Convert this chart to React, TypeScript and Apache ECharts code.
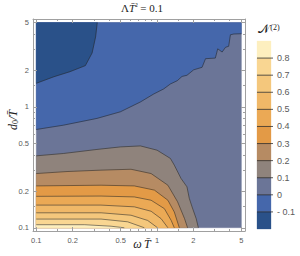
import React, { useEffect, useRef } from 'react';
import * as echarts from 'echarts';

// ---- data ----
const levels = [-0.2, -0.1, 0, 0.1, 0.2, 0.3, 0.4, 0.5, 0.6, 0.7, 0.8, 0.9];
const bandColors = ['#2a5189', '#4567ab', '#6b7597', '#8f837c', '#b68b63', '#e39a46', '#eba955', '#f0b868', '#f4c77c', '#f9d692', '#fdefbf'];
const colorbarLabels = [-0.1, 0, 0.1, 0.2, 0.3, 0.4, 0.5, 0.6, 0.7, 0.8];
const xTicks = [0.1, 0.2, 0.5, 1, 2, 5];
const yTicks = [0.1, 0.2, 0.5, 1, 2, 5];
const minorTicks = [0.15, 0.3, 0.4, 0.6, 0.7, 0.8, 0.9, 1.5, 3, 4];
const dataMin = 0.1;
const dataMax = 5;

// contour lines [ωT̄, d0/T̄]
const contourNeg01 = [[0.32, 5], [0.31, 3.8], [0.29, 2.8], [0.255, 2.2], [0.19, 1.96], [0.14, 1.78], [0.1, 1.57]];
const contour00 = [[0.1, 0.651], [0.168, 0.707], [0.318, 0.804], [0.497, 0.912], [0.728, 1.1], [0.938, 1.28], [1.135, 1.41], [1.29, 1.55], [1.47, 1.65], [1.61, 1.79], [1.77, 1.83], [2.01, 2.03], [2.36, 2.13], [2.52, 2.51], [3.04, 2.54], [3.18, 3.03], [3.46, 2.85], [3.69, 3.12], [3.92, 3.18], [4.05, 3.96], [4.32, 4.02], [5, 4.04]];
const contour01 = [[0.1, 0.394], [0.168, 0.412], [0.318, 0.445], [0.497, 0.467], [0.728, 0.476], [1.0, 0.439], [1.29, 0.375], [1.39, 0.33], [1.58, 0.256], [1.77, 0.218], [1.85, 0.175], [1.95, 0.149], [2.11, 0.119], [2.2, 0.1]];
const contour02 = [[0.1, 0.281], [0.18, 0.292], [0.344, 0.3], [0.609, 0.305], [0.893, 0.281], [1.23, 0.225], [1.48, 0.164], [1.69, 0.119], [1.79, 0.1]];
const contour03 = [[0.1, 0.222], [0.344, 0.225], [0.649, 0.222], [0.951, 0.205], [1.23, 0.169], [1.39, 0.135], [1.53, 0.1]];
const contour04 = [[0.1, 0.182], [0.344, 0.183], [0.649, 0.18], [0.893, 0.169], [1.15, 0.144], [1.31, 0.115], [1.39, 0.1]];
const contour05 = [[0.1, 0.154], [0.344, 0.154], [0.649, 0.149], [0.893, 0.137], [1.08, 0.119], [1.23, 0.1]];
const contour06 = [[0.1, 0.133], [0.344, 0.133], [0.609, 0.127], [0.836, 0.115], [1.01, 0.1]];
const contour07 = [[0.1, 0.118], [0.344, 0.118], [0.571, 0.112], [0.785, 0.1]];
const contour08 = [[0.1, 0.106], [0.25, 0.106], [0.416, 0.103], [0.536, 0.1]];

const upperContours = [contour01, contour02, contour03, contour04, contour05, contour06, contour07, contour08];
const allContours = [contourNeg01, contour00, ...upperContours];

const fillRegions: { band: number; pts: number[][] }[] = [
  { band: 2, pts: [[dataMin, dataMin], [dataMax, dataMin], [dataMax, dataMax], [dataMin, dataMax]] },
  { band: 1, pts: [...contour00, [dataMax, dataMax], [dataMin, dataMax]] },
  { band: 0, pts: [...contourNeg01, [dataMin, dataMax]] },
  ...upperContours.map((c, i) => ({ band: 3 + i, pts: [...c, [dataMin, dataMin]] })),
];

const lineColor = 'rgba(35,35,35,0.6)';
const frameColor = '#a0a0a0';
const tickLabelColor = '#5a5a5a';
const serif = '"Liberation Serif", "DejaVu Serif", serif';
const sans = '"Liberation Sans", "DejaVu Sans", sans-serif';

const fmtTick = (v: number) => String(+Number(v).toPrecision(3));

function logAxis(kind: 'x' | 'y', position: string, ticks: number[], len: number, labels: boolean, line: boolean) {
  return {
    type: 'log',
    logBase: 10,
    gridIndex: 0,
    position,
    min: 0.094,
    max: 5.35,
    axisLine: { show: line, lineStyle: { color: frameColor, width: 1 } },
    axisTick: { show: true, inside: true, length: len, customValues: ticks, lineStyle: { color: frameColor, width: 1 } },
    axisLabel: labels
      ? { show: true, customValues: ticks, formatter: fmtTick, fontSize: 7.5, color: tickLabelColor, fontFamily: sans, margin: kind === 'x' ? 5 : 4 }
      : { show: false },
    splitLine: { show: false },
    minorTick: { show: false },
    z: 10,
  };
}

export default function App() {
  const ref = useRef<HTMLDivElement>(null);
  useEffect(() => {
    document.body.style.margin = '0';
    const chart = echarts.init(ref.current!, undefined, { renderer: 'svg' });
    const option: any = {
      animation: false,
      backgroundColor: '#ffffff',
      grid: [
        { left: 33, top: 19, width: 212, height: 212, containLabel: false },
        { left: 257, top: 41, width: 14, height: 188, containLabel: false },
      ],
      xAxis: [
        logAxis('x', 'bottom', xTicks, 4, true, true),
        logAxis('x', 'top', xTicks, 4, false, true),
        logAxis('x', 'bottom', minorTicks, 2, false, false),
        logAxis('x', 'top', minorTicks, 2, false, false),
        { type: 'value', gridIndex: 1, min: 0, max: 1, show: false },
      ],
      yAxis: [
        logAxis('y', 'left', yTicks, 4, true, true),
        logAxis('y', 'right', yTicks, 4, false, true),
        logAxis('y', 'left', minorTicks, 2, false, false),
        logAxis('y', 'right', minorTicks, 2, false, false),
        {
          type: 'value', gridIndex: 1, position: 'right', min: -0.2, max: 0.9, interval: 0.1,
          axisLine: { show: false }, axisTick: { show: false }, splitLine: { show: false },
          axisLabel: {
            customValues: colorbarLabels,
            fontSize: 9, color: tickLabelColor, fontFamily: sans, margin: 6,
            formatter: (v: number) => (Math.abs(v) < 1e-9 ? '0' : v < 0 ? '- ' + Math.abs(v).toFixed(1) : v.toFixed(1)),
          },
        },
      ],
      graphic: [
        {
          type: 'text', x: 142, y: 8,
          style: {
            text: '{u|Λ}{i|T\u0304}{s|²}{u| = 0.1}',
            align: 'center', verticalAlign: 'middle', textAlign: 'center', textVerticalAlign: 'middle',
            fill: '#222',
            rich: {
              u: { fontFamily: serif, fontSize: 11, fill: '#222' },
              i: { fontFamily: serif, fontSize: 11, fontStyle: 'italic', fill: '#222' },
              s: { fontFamily: serif, fontSize: 8, fill: '#222', verticalAlign: 'top' },
            },
          },
        },
        {
          type: 'text', x: 13, y: 120, rotation: Math.PI / 2,
          style: {
            text: '{i|d}{s|0}{i|/T\u0304}',
            align: 'center', verticalAlign: 'middle', textAlign: 'center', textVerticalAlign: 'middle',
            fill: '#222',
            rich: {
              i: { fontFamily: serif, fontSize: 12, fontStyle: 'italic', fill: '#222' },
              s: { fontFamily: serif, fontSize: 8, fill: '#222', verticalAlign: 'bottom' },
            },
          },
        },
        {
          type: 'text', x: 142, y: 244,
          style: {
            text: 'ω\u2009T\u0304',
            fontFamily: serif, fontSize: 12, fontStyle: 'italic',
            align: 'center', verticalAlign: 'middle', textAlign: 'center', textVerticalAlign: 'middle',
            fill: '#222',
          },
        },
        {
          type: 'text', x: 269, y: 29,
          style: {
            text: '{n|𝒩}{s|(2)}',
            align: 'center', verticalAlign: 'middle', textAlign: 'center', textVerticalAlign: 'middle',
            fill: '#222',
            rich: {
              n: { fontFamily: serif, fontSize: 12, fill: '#222' },
              s: { fontFamily: serif, fontSize: 8, fill: '#222', verticalAlign: 'top' },
            },
          },
        },
      ],
      series: [
        {
          type: 'custom', coordinateSystem: 'cartesian2d', xAxisIndex: 0, yAxisIndex: 0, silent: true, clip: true, z: 2,
          data: fillRegions.map((r, i) => [r.pts[0][0], r.pts[0][1], i]),
          encode: { x: 0, y: 1 },
          renderItem: (params: any, api: any) => {
            const r = fillRegions[params.dataIndex];
            const c = bandColors[r.band];
            return { type: 'polygon', shape: { points: r.pts.map((p) => api.coord(p)) }, style: { fill: c, stroke: c, lineWidth: 0.3 } };
          },
        },
        {
          type: 'custom', coordinateSystem: 'cartesian2d', xAxisIndex: 0, yAxisIndex: 0, silent: true, clip: true, z: 3,
          data: allContours.map((c, i) => [c[0][0], c[0][1], i]),
          encode: { x: 0, y: 1 },
          renderItem: (params: any, api: any) => {
            const c = allContours[params.dataIndex];
            return { type: 'polyline', shape: { points: c.map((p) => api.coord(p)) }, style: { fill: 'rgba(0,0,0,0)', stroke: lineColor, lineWidth: 0.9 } };
          },
        },
        {
          type: 'custom', coordinateSystem: 'cartesian2d', xAxisIndex: 4, yAxisIndex: 4, silent: true, clip: false,
          data: bandColors.map((_, i) => [0.5, (levels[i] + levels[i + 1]) / 2, i]),
          encode: { x: 0, y: 1 },
          renderItem: (params: any, api: any) => {
            const i = params.dataIndex;
            const p1 = api.coord([0, levels[i + 1]]);
            const p2 = api.coord([1, levels[i]]);
            const children: any[] = [
              { type: 'rect', shape: { x: p1[0], y: p1[1], width: p2[0] - p1[0], height: p2[1] - p1[1] }, style: { fill: bandColors[i], stroke: bandColors[i], lineWidth: 0.3 } },
            ];
            if (i > 0) {
              children.push({ type: 'line', shape: { x1: p1[0], y1: p2[1], x2: p2[0] + 2, y2: p2[1] }, style: { stroke: 'rgba(35,35,35,0.75)', lineWidth: 1 } });
            }
            return { type: 'group', children };
          },
        },
      ],
    };
    chart.setOption(option);
    return () => chart.dispose();
  }, []);
  return <div ref={ref} style={{ width: 300, height: 256 }} />;
}
